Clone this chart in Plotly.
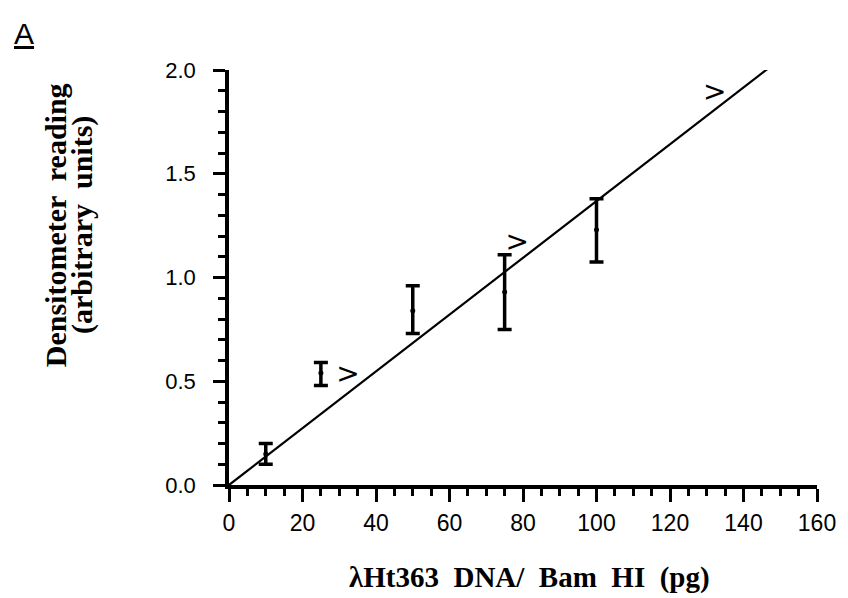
import plotly.graph_objects as go

# Data
dna_pg = [10, 25, 50, 75, 100]
density = [0.15, 0.54, 0.84, 0.93, 1.23]
err_plus = [0.05, 0.05, 0.12, 0.18, 0.15]
err_minus = [0.05, 0.06, 0.11, 0.18, 0.155]

fit_x = [0, 148]
fit_y = [0, 2.025]

arrow_x = [32.4, 78.4, 132.2]
arrow_y = [0.525, 1.16, 1.884]
arrow_text = [">", ">", ">"]

x_ticks = [0, 20, 40, 60, 80, 100, 120, 140, 160]
y_ticks = [0.0, 0.5, 1.0, 1.5, 2.0]

fig = go.Figure()

fig.add_trace(go.Scatter(
    x=fit_x, y=fit_y, mode="lines",
    line=dict(color="black", width=2.2),
    showlegend=False, cliponaxis=False,
))

fig.add_trace(go.Scatter(
    x=dna_pg, y=density, mode="markers",
    marker=dict(color="black", size=5),
    error_y=dict(type="data", symmetric=False, array=err_plus, arrayminus=err_minus,
                 color="black", thickness=3.5, width=7),
    showlegend=False, cliponaxis=False,
))

fig.add_trace(go.Scatter(
    x=arrow_x, y=arrow_y, mode="text", text=arrow_text,
    textfont=dict(family="DejaVu Sans", size=28, color="black"),
    textposition="middle center",
    showlegend=False, cliponaxis=False,
))

fig.update_layout(
    width=840, height=590,
    margin=dict(l=221, r=27, t=62, b=113),
    paper_bgcolor="white", plot_bgcolor="white",
    font=dict(family="Liberation Sans", color="black", size=22),
    xaxis=dict(
        range=[0, 160], tickvals=x_ticks, ticktext=[str(v) for v in x_ticks],
        showline=True, linecolor="black", linewidth=3.5,
        ticks="outside", ticklen=13, tickwidth=3, tickcolor="black",
        minor=dict(dtick=5, ticks="outside", ticklen=7, tickwidth=2.5, tickcolor="black", showgrid=False),
        showgrid=False, zeroline=False,
        tickfont=dict(family="Liberation Sans", size=23),
        ticklabelstandoff=2,
    ),
    yaxis=dict(
        range=[0, 2.0], tickvals=y_ticks, ticktext=["%.1f" % v for v in y_ticks],
        showline=True, linecolor="black", linewidth=3.5,
        ticks="outside", ticklen=12, tickwidth=3, tickcolor="black",
        minor=dict(dtick=0.1, ticks="outside", ticklen=7, tickwidth=2.5, tickcolor="black", showgrid=False),
        showgrid=False, zeroline=False,
        tickfont=dict(family="Liberation Sans", size=22),
        ticklabelstandoff=13,
    ),
    annotations=[
        dict(text="<b>Densitometer  reading</b>",
             xref="paper", yref="paper", x=-0.2955, y=0.6265,
             xanchor="center", yanchor="middle", textangle=-90, showarrow=False,
             font=dict(family="Liberation Serif", size=30, color="black")),
        dict(text="<b>(arbitrary  units)</b>",
             xref="paper", yref="paper", x=-0.2500, y=0.6265,
             xanchor="center", yanchor="middle", textangle=-90, showarrow=False,
             font=dict(family="Liberation Serif", size=30, color="black")),
        dict(text="<b>λHt363  DNA/  Bam  HI  (pg)</b>",
             xref="paper", yref="paper", x=0.5118, y=-0.2217,
             xanchor="center", yanchor="middle", showarrow=False,
             font=dict(family="Liberation Serif", size=29, color="black")),
        dict(text="<u>A</u>",
             xref="paper", yref="paper", x=-0.348, y=1.089,
             xanchor="center", yanchor="middle", showarrow=False,
             font=dict(family="Liberation Sans", size=30, color="black")),
    ],
)

fig.write_html("out.html")
